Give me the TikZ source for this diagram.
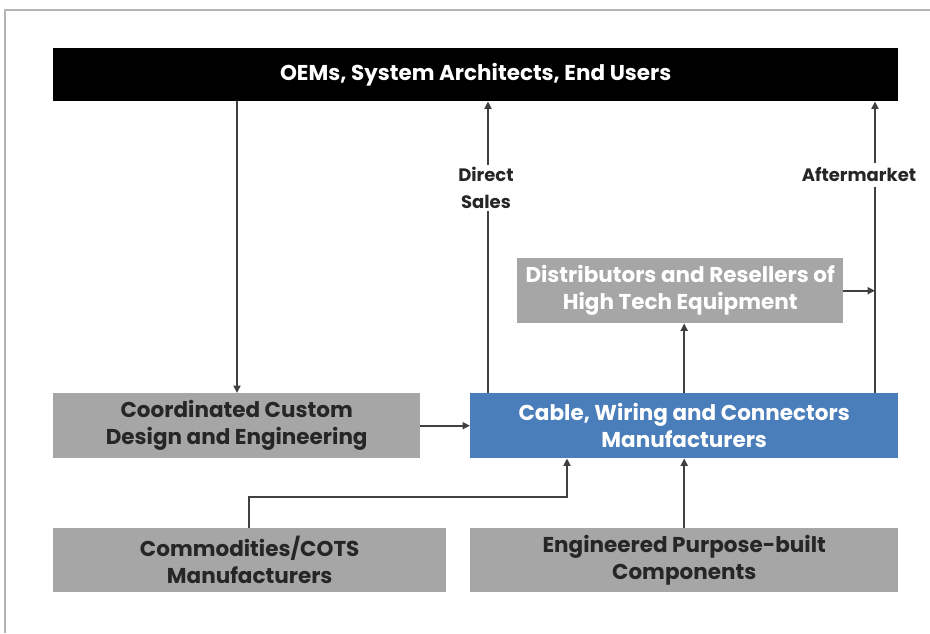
\documentclass[tikz,border=0pt]{standalone}
\usepackage{fontspec}
\setmainfont{Poppins}
\usetikzlibrary{arrows.meta, calc, positioning}

\definecolor{boxgray}{HTML}{A6A6A6}
\definecolor{boxblue}{HTML}{4A7EBB}
\definecolor{linegray}{HTML}{404040}
\definecolor{textdark}{HTML}{262626}
\definecolor{framegray}{HTML}{B4B4B4}

\begin{document}
\begin{tikzpicture}[x=1pt,y=-1pt]
    \tikzset{
      blk/.style={
        rectangle,
        inner sep=0pt,
        align=center,
        font=\bfseries\fontsize{21.5}{27}\selectfont,
        anchor=north west,
      },
      graybox/.style={blk, fill=boxgray, text=textdark},
      lightbox/.style={blk, fill=boxgray, text=white},
      bluebox/.style={blk, fill=boxblue, text=white},
      topbox/.style={blk, fill=black, text=white},
      lbl/.style={
        fill=white,
        inner sep=2pt,
        align=center,
        text=textdark,
        font=\bfseries\fontsize{18}{27}\selectfont,
      },
      arr/.style={
        draw=linegray,
        line width=2.2pt,
        -{Triangle[length=7.5pt,width=7pt]},
      },
      ln/.style={draw=linegray, line width=2.2pt},
    }

    \useasboundingbox (0,0) rectangle (930,633);
    % outer frame (top and left only)
    \draw[framegray, line width=1.5pt] (5,633) -- (5,10) -- (930,10);

    % boxes
    \node[topbox, minimum width=845pt, minimum height=53pt] (users) at (53,48)
        {OEMs, System Architects, End Users};
    \node[lightbox, minimum width=326pt, minimum height=65pt] (dist) at (517,258)
        {Distributors and Resellers of\\High Tech Equipment};
    \node[graybox, minimum width=367pt, minimum height=65pt] (design) at (53,393)
        {Coordinated Custom\\Design and Engineering};
    \node[bluebox, minimum width=428pt, minimum height=65pt] (cable) at (470,393)
        {Cable, Wiring and Connectors\\Manufacturers};
    \node[graybox, minimum width=393pt, minimum height=64pt] (comm) at (53,528)
        {Commodities/COTS\\Manufacturers};
    \node[graybox, minimum width=428pt, minimum height=64pt] (eng) at (470,528)
        {Engineered Purpose-built\\Components};

    % labels on the vertical lines
    \node[lbl] (direct) at (486,188) {Direct\\Sales};
    \node[lbl, inner ysep=5pt] (after) at (859,175) {Aftermarket};

    % guide coordinates
    \coordinate (dn) at (237,0);
    \coordinate (ds) at (488,0);
    \coordinate (am) at (875,0);
    \coordinate (knee) at (567,497);

    % downward to design
    \draw[arr] (users.south -| dn) -- (design.north -| dn);
    \draw[arr] (design.east) -- (cable.west);

    % direct sales
    \draw[ln] (cable.north -| ds) -- (direct.south -| ds);
    \draw[arr] (direct.north -| ds) -- (users.south -| ds);

    % aftermarket
    \draw[ln] (cable.north -| am) -- (after.south -| am);
    \draw[arr] (after.north -| am) -- (users.south -| am);
    \draw[arr] (dist.east) -- (dist.east -| am);
    \draw[arr] (cable.north) -- (dist.south -| cable.north);

    % suppliers
    \draw[arr] (comm.north -| 249,0) |- (knee) -- (cable.south -| knee);
    \draw[arr] (eng.north) -- (cable.south);
\end{tikzpicture}
\end{document}
